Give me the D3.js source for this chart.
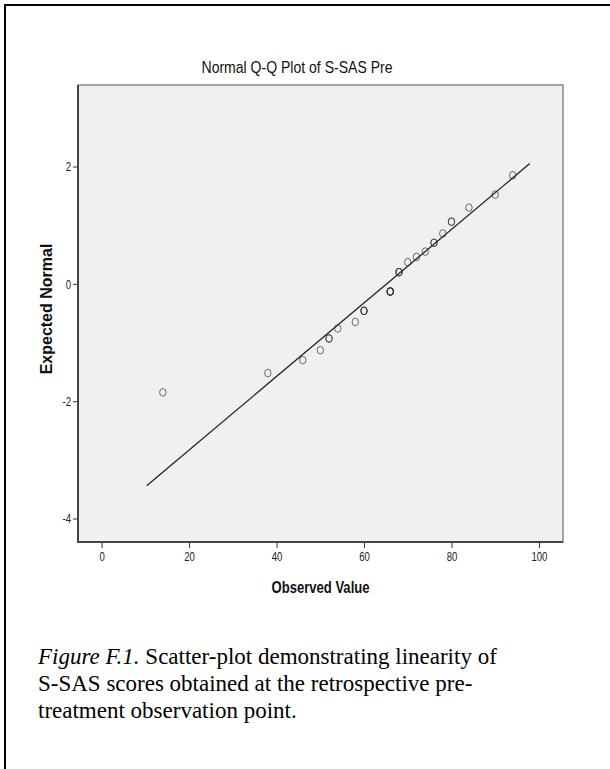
<!DOCTYPE html>
<html>
<head>
<meta charset="utf-8">
<script src="https://cdn.jsdelivr.net/npm/d3@7"></script>
<style>
  body { margin: 0; background: #fff; }
  .tick text { font-family: "Liberation Sans", Arial, sans-serif; font-size: 13px; fill: #222; }
  .tick line { stroke: #333; }
  .caption { font-family: "Liberation Serif", "Times New Roman", serif; font-size: 23px; fill: #000; }
</style>
</head>
<body>
<div id="chart"></div>
<script>
// observed S-SAS scores (distinct values) and their expected normal values
var observed = [14, 38, 46, 50, 52, 54, 58, 60, 66, 68, 70, 72, 74, 76, 78, 80, 84, 90, 94];
var expected = [-1.85, -1.52, -1.30, -1.13, -0.93, -0.76, -0.65, -0.46, -0.13, 0.20, 0.37, 0.46, 0.55, 0.70, 0.86, 1.06, 1.30, 1.52, 1.85];
// how many cases share each value (overlaid markers look darker)
var ties = [1, 1, 1, 1, 2, 1, 1, 3, 5, 3, 1, 1, 1, 2, 1, 2, 1, 1, 1];

// reference line end points
var refLineX = [10.3, 97.9];
var refLineY = [-3.44, 2.05];

var xTicks = [0, 20, 40, 60, 80, 100];
var yTicks = [-4, -2, 0, 2];

var captionLines = [
  ['Figure F.1.', ' Scatter-plot demonstrating linearity of'],
  ['', 'S-SAS scores obtained at the retrospective pre-'],
  ['', 'treatment observation point.']
];

var W = 610, H = 769;
var plot = {left: 78, right: 563, top: 85, bottom: 542};
var squeeze = 0.74; // chart text looks horizontally condensed

var svg = d3.select('#chart').append('svg')
  .attr('width', W)
  .attr('height', H);

// outer frame (only top and left edges show)
svg.append('line').attr('x1', 4).attr('y1', 5).attr('x2', W).attr('y2', 5)
  .attr('stroke', '#000').attr('stroke-width', 2);
svg.append('line').attr('x1', 5).attr('y1', 4).attr('x2', 5).attr('y2', H)
  .attr('stroke', '#000').attr('stroke-width', 2);

var x = d3.scaleLinear().domain([-5.4, 105.5]).range([plot.left, plot.right]);
var y = d3.scaleLinear().domain([-4.4, 3.39]).range([plot.bottom, plot.top]);

// plot background
svg.append('rect')
  .attr('x', plot.left).attr('y', plot.top)
  .attr('width', plot.right - plot.left).attr('height', plot.bottom - plot.top)
  .attr('fill', '#f0f0f0')
  .attr('stroke', '#555').attr('stroke-width', 1);

// axes
var xAxis = svg.append('g')
  .attr('transform', 'translate(0,' + plot.bottom + ')')
  .call(d3.axisBottom(x).tickValues(xTicks).tickFormat(String).tickSize(6).tickPadding(4));
xAxis.select('.domain').remove();
xAxis.selectAll('.tick text').attr('transform', 'scale(' + squeeze + ',1)');

var yAxis = svg.append('g')
  .attr('transform', 'translate(' + plot.left + ',0)')
  .call(d3.axisLeft(y).tickValues(yTicks).tickFormat(String).tickSize(5).tickPadding(2));
yAxis.select('.domain').remove();
yAxis.selectAll('.tick text')
  .attr('x', -7 / squeeze)
  .attr('transform', 'scale(' + squeeze + ',1)');

// heavier left and bottom axis lines
svg.append('path')
  .attr('d', 'M' + plot.left + ',' + plot.top + 'V' + plot.bottom + 'H' + plot.right)
  .attr('fill', 'none').attr('stroke', '#444').attr('stroke-width', 2);

// reference line
svg.append('line')
  .attr('x1', x(refLineX[0])).attr('y1', y(refLineY[0]))
  .attr('x2', x(refLineX[1])).attr('y2', y(refLineY[1]))
  .attr('stroke', '#222').attr('stroke-width', 1.3);

// one marker per case
var cases = [];
observed.forEach(function (v, i) {
  for (var k = 0; k < ties[i]; k++) {
    cases.push({obs: v, exp: expected[i]});
  }
});

svg.append('g').selectAll('ellipse')
  .data(cases)
  .enter()
  .append('ellipse')
  .attr('cx', function (d) { return x(d.obs); })
  .attr('cy', function (d) { return y(d.exp); })
  .attr('rx', 3.2)
  .attr('ry', 3.8)
  .attr('fill', 'none')
  .attr('stroke', '#333')
  .attr('stroke-opacity', 0.7)
  .attr('stroke-width', 1);

// titles
svg.append('text')
  .attr('x', 297).attr('y', 73)
  .attr('text-anchor', 'middle')
  .attr('textLength', 191)
  .attr('lengthAdjust', 'spacingAndGlyphs')
  .style('font-family', '"Liberation Sans", Arial, sans-serif')
  .style('font-size', '17px')
  .style('fill', '#111')
  .text('Normal Q-Q Plot of S-SAS Pre');

svg.append('text')
  .attr('x', (plot.left + plot.right) / 2).attr('y', 593)
  .attr('text-anchor', 'middle')
  .attr('textLength', 98)
  .attr('lengthAdjust', 'spacingAndGlyphs')
  .style('font-family', '"Liberation Sans", Arial, sans-serif')
  .style('font-size', '16px')
  .style('font-weight', 'bold')
  .style('fill', '#111')
  .text('Observed Value');

svg.append('text')
  .attr('transform', 'translate(52,309) rotate(-90)')
  .attr('text-anchor', 'middle')
  .style('font-family', '"Liberation Sans", Arial, sans-serif')
  .style('font-size', '16px')
  .style('font-weight', 'bold')
  .style('fill', '#111')
  .text('Expected Normal');

// caption
var cap = svg.append('g');
captionLines.forEach(function (ln, i) {
  var t = cap.append('text')
    .attr('class', 'caption')
    .attr('x', 38)
    .attr('y', 664 + i * 27);
  if (ln[0]) t.append('tspan').style('font-style', 'italic').text(ln[0]);
  t.append('tspan').text(ln[1]);
});
</script>
</body>
</html>
